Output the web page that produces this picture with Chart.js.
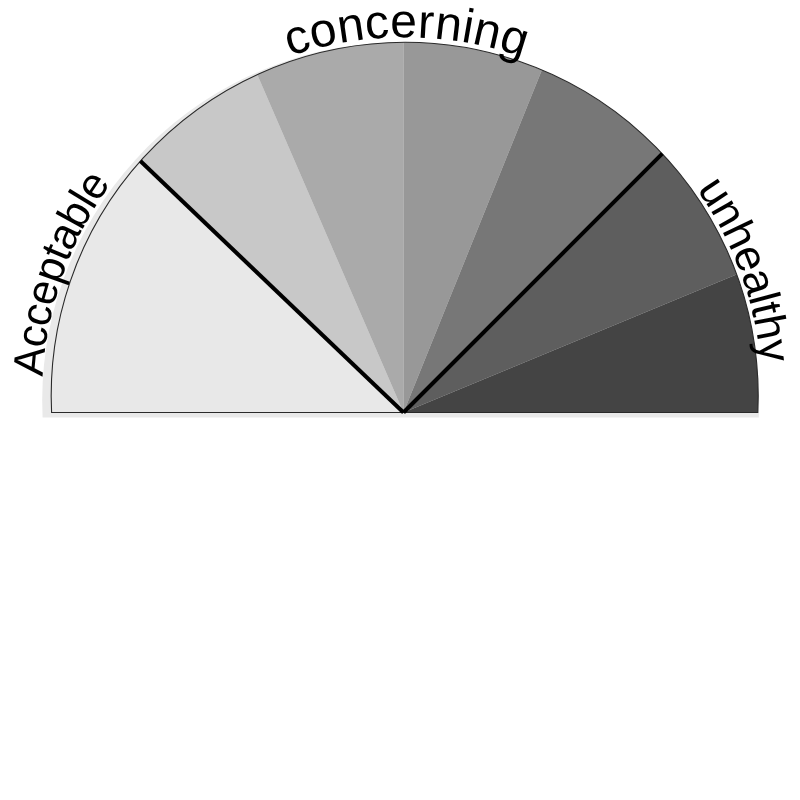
<!DOCTYPE html>
<html><head><meta charset="utf-8">
<script src="https://cdn.jsdelivr.net/npm/chart.js@4/dist/chart.umd.min.js"></script>
<style>
html,body{margin:0;padding:0;background:#fff;overflow:hidden;width:800px;height:800px}
</style></head><body>
<canvas id="c" width="800" height="800"></canvas>
<script>
// ---- data (segment sizes, in degrees of the half turn) ----
const segmentLabels = ['Acceptable', 'concerning 1', 'concerning 2', 'concerning 3', 'concerning 4', 'unhealthy 1', 'unhealthy 2'];
const segmentValues = [43.7, 22.9, 23.4, 22.0, 23.0, 22.5, 22.5];
const zoneLabels = ['Acceptable', 'concerning', 'unhealthy'];
const zoneSegmentCounts = [1, 4, 2];

// ---- styles ----
const segmentColors = ['#e8e8e8', '#c8c8c8', '#aaaaaa', '#989898', '#777777', '#5e5e5e', '#444444'];
const labelFontSizes = [43, 48, 44];
const labelTracking = [-0.5, 0.3, -0.4];
const labelGaps = [9, 5, 4];
const labelNudgeDeg = [0, 1.1, 0];
// outline of the gauge: a circle whose centre sits a little above the slices' apex
const frameShiftX = 1.2, frameShiftY = -16.7, frameRadius = 353.5;
const shadowShiftX = -4, shadowShiftY = 5, shadowGrow = 5;

function framePath(ctx, apexY, cx, cy, R) {
  const d = Math.asin(Math.max(-1, Math.min(1, (apexY - cy) / R)));
  ctx.beginPath();
  ctx.arc(cx, cy, R, Math.PI - d, 2 * Math.PI + d);
  ctx.closePath();
}

function rayHit(ax, ay, ang, cx, cy, R) {
  const dx = Math.cos(ang), dy = Math.sin(ang);
  const wx = ax - cx, wy = ay - cy;
  const b = wx * dx + wy * dy;
  const c = wx * wx + wy * wy - R * R;
  const t = -b + Math.sqrt(b * b - c);
  return {x: ax + t * dx, y: ay + t * dy};
}

function drawArcText(ctx, text, cx, cy, radius, centerAngle, tracking) {
  const chars = Array.from(text);
  const widths = chars.map(ch => ctx.measureText(ch).width);
  const total = widths.reduce((s, w) => s + w, 0) + tracking * (chars.length - 1);
  let a = centerAngle - total / (2 * radius);
  chars.forEach((ch, i) => {
    const w = widths[i];
    const mid = a + (w / 2) / radius;
    ctx.save();
    ctx.translate(cx, cy);
    ctx.rotate(mid + Math.PI / 2);
    ctx.fillText(ch, 0, -radius);
    ctx.restore();
    a += (w + tracking) / radius;
  });
}

const gaugePlugin = {
  id: 'gauge',
  beforeDatasetsDraw(chart) {
    const {x, y} = chart.getDatasetMeta(0).data[0];
    const cx = x + frameShiftX, cy = y + frameShiftY;
    const ctx = chart.ctx;
    // soft grey backdrop
    ctx.save();
    ctx.fillStyle = '#e9e9e9';
    framePath(ctx, y + shadowShiftY, cx + shadowShiftX, cy + shadowShiftY, frameRadius + shadowGrow);
    ctx.fill();
    ctx.restore();
    // clip the slices to the gauge outline
    ctx.save();
    framePath(ctx, y, cx, cy, frameRadius);
    ctx.clip();
  },
  afterDatasetsDraw(chart) {
    const ctx = chart.ctx;
    ctx.restore();
    const arcs = chart.getDatasetMeta(0).data;
    const {x, y} = arcs[0];
    const cx = x + frameShiftX, cy = y + frameShiftY;
    ctx.save();
    // outline
    ctx.strokeStyle = '#2a2a2a';
    ctx.lineWidth = 1.1;
    framePath(ctx, y, cx, cy, frameRadius);
    ctx.stroke();
    // zone boundaries and labels
    ctx.fillStyle = '#000';
    ctx.textAlign = 'center';
    ctx.textBaseline = 'alphabetic';
    let idx = 0;
    zoneSegmentCounts.forEach((n, zi) => {
      const first = arcs[idx], last = arcs[idx + n - 1];
      idx += n;
      const pStart = rayHit(x, y, first.startAngle, cx, cy, frameRadius);
      const pEnd = rayHit(x, y, last.endAngle, cx, cy, frameRadius);
      if (zi < zoneSegmentCounts.length - 1) {
        ctx.strokeStyle = '#000';
        ctx.lineWidth = 4;
        ctx.beginPath();
        ctx.moveTo(x, y);
        ctx.lineTo(pEnd.x, pEnd.y);
        ctx.stroke();
      }
      let a1 = Math.atan2(pStart.y - cy, pStart.x - cx);
      let a2 = Math.atan2(pEnd.y - cy, pEnd.x - cx);
      if (a1 < Math.PI / 2) a1 += 2 * Math.PI;
      while (a2 < a1) a2 += 2 * Math.PI;
      const mid = (a1 + a2) / 2 + labelNudgeDeg[zi] * Math.PI / 180;
      ctx.font = labelFontSizes[zi] + 'px "Liberation Sans", Arial, sans-serif';
      drawArcText(ctx, zoneLabels[zi], cx, cy, frameRadius + labelGaps[zi], mid, labelTracking[zi]);
    });
    ctx.restore();
  }
};

new Chart(document.getElementById('c'), {
  type: 'doughnut',
  data: {
    labels: segmentLabels,
    datasets: [{
      data: segmentValues,
      backgroundColor: segmentColors,
      borderWidth: 0,
      hoverOffset: 0
    }]
  },
  options: {
    responsive: false,
    animation: false,
    events: [],
    rotation: -90,
    circumference: 180,
    cutout: 0,
    layout: {padding: {left: 23.5, right: 16.5, top: 32.5, bottom: 387.5}},
    plugins: {legend: {display: false}, tooltip: {enabled: false}}
  },
  plugins: [gaugePlugin]
});
</script>
</body></html>
